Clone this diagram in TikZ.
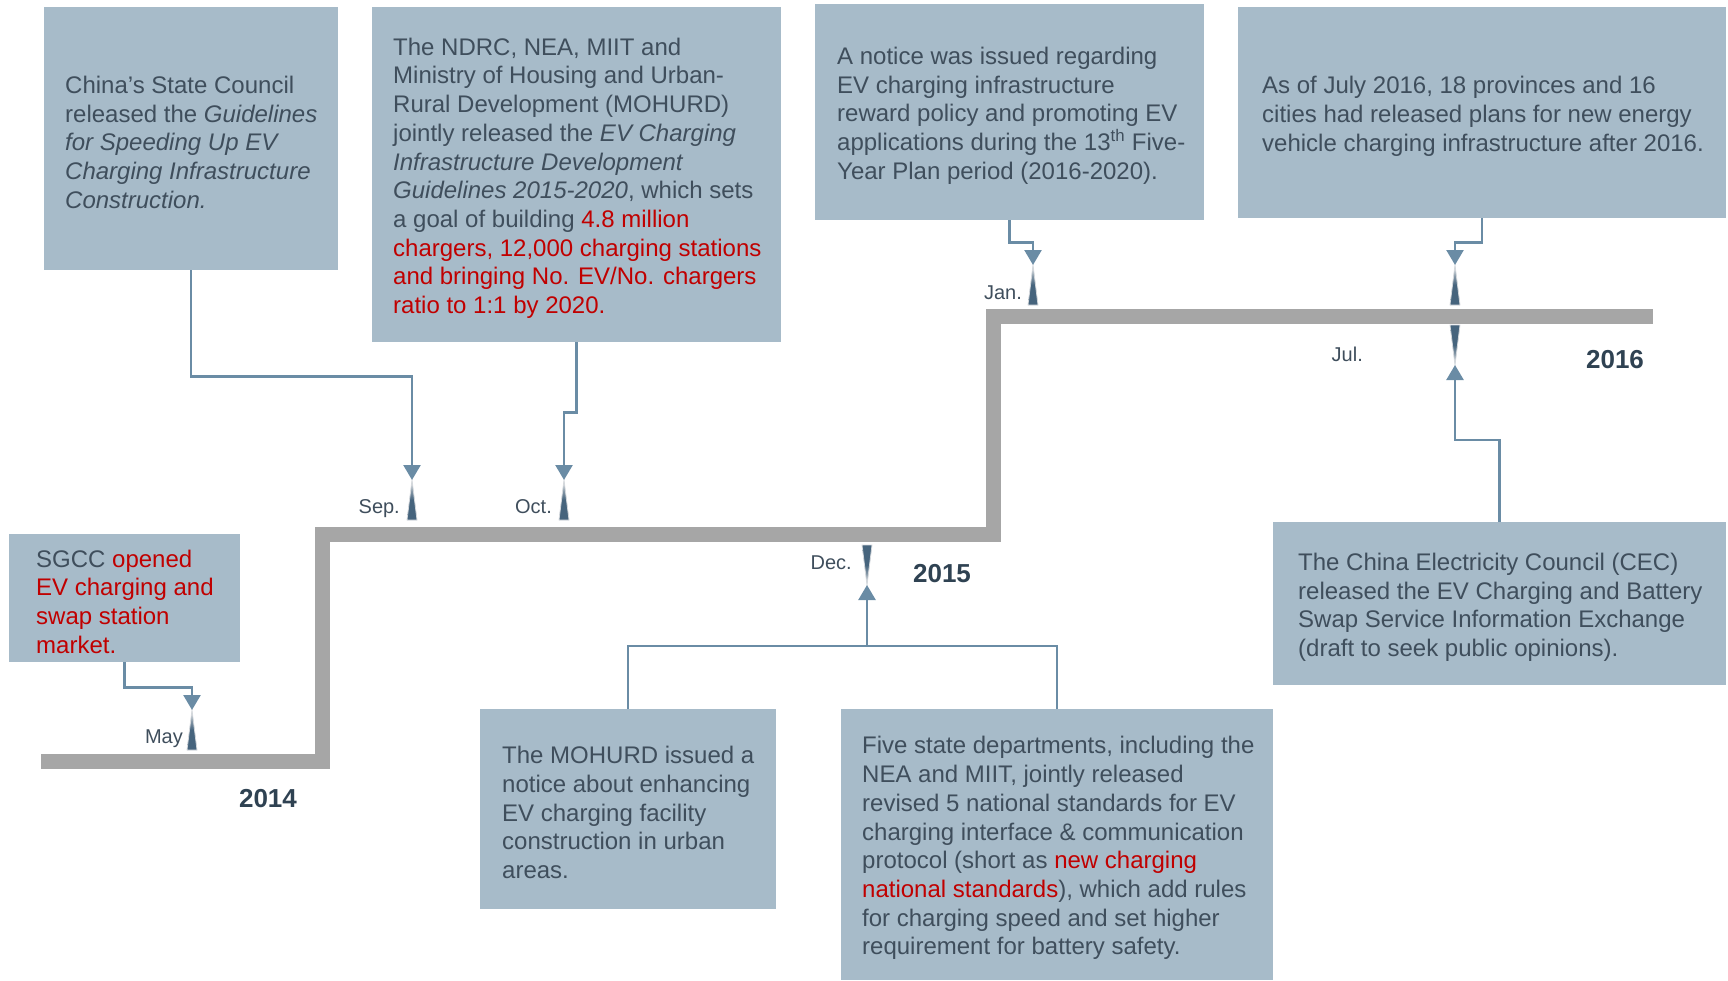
\documentclass[tikz,border=0pt]{standalone}
\usepackage{fontspec}
\setmainfont{Liberation Sans}
\usetikzlibrary{arrows.meta}

\definecolor{boxfill}{HTML}{A7BBC9}
\definecolor{txt}{HTML}{3F4E5C}
\definecolor{hlred}{HTML}{C00000}
\definecolor{connc}{HTML}{6A8CA5}
\definecolor{barc}{HTML}{A6A6A6}
\definecolor{yr}{HTML}{2F4252}
\definecolor{mkdark}{HTML}{46647D}
\definecolor{mklight}{HTML}{D4D8DC}

\newcommand\redtxt[1]{\textcolor{hlred}{#1}}

\tikzset{
  box/.style={fill=boxfill, draw=none, inner sep=0pt, anchor=north west},
  body/.style={anchor=west, align=left, inner sep=0pt, text=txt, yshift=-3.5pt,
    font=\fontsize{24}{28.7}\selectfont},
  month/.style={anchor=base east, inner sep=0pt, text=txt,
    font=\fontsize{20}{24}\selectfont},
  year/.style={anchor=base, inner sep=0pt, text=yr,
    font=\bfseries\fontsize{26}{30}\selectfont},
  conn/.style={draw=connc, line width=2.5pt},
  arr/.style={-{Triangle[width=17pt,length=15pt]}},
  upmark/.pic={\path[draw=mklight, line width=0.8pt, top color=mklight,
      bottom color=mkdark, middle color=mkdark]
      (-5,0) -- (0,-40) -- (5,0) -- cycle;},
  dnmark/.pic={\path[draw=mklight, line width=0.8pt, top color=mkdark,
      bottom color=mklight, middle color=mkdark]
      (-5,0) -- (0,40) -- (5,0) -- cycle;},
}

\begin{document}
\begin{tikzpicture}[x=1pt,y=-1pt]
\useasboundingbox (0,0) rectangle (1728,980);

% stepped timeline bar
\draw[barc, line width=15pt, line join=miter]
  (41,761) -- (322,761) -- (322,534) -- (993,534) -- (993,316) -- (1653,316);

% event boxes
\node[box, minimum width=294pt, minimum height=263pt] (sc) at (44,7) {};
\node[box, minimum width=409pt, minimum height=335pt] (nd) at (372,7) {};
\node[box, minimum width=389pt, minimum height=216pt] (nt) at (815,4) {};
\node[box, minimum width=488pt, minimum height=211pt] (jl) at (1238,7) {};
\node[box, minimum width=231pt, minimum height=128pt] (sg) at (9,534) {};
\node[box, minimum width=296pt, minimum height=200pt] (moh) at (480,709) {};
\node[box, minimum width=432pt, minimum height=271pt] (five) at (841,709) {};
\node[box, minimum width=453pt, minimum height=163pt] (cec) at (1273,522) {};

% box texts
\node[body] (sct) at ([xshift=21pt]sc.west) {China’s State Council\\
released the \textit{Guidelines}\\
\textit{for Speeding Up EV}\\
\textit{Charging Infrastructure}\\
\textit{Construction.}};

\node[body] (ndt) at ([xshift=21pt]nd.west) {The NDRC, NEA, MIIT and\\
Ministry of Housing and Urban-\\
Rural Development (MOHURD)\\
jointly released the \textit{EV Charging}\\
\textit{Infrastructure Development}\\
\textit{Guidelines 2015-2020}, which sets\\
a goal of building \redtxt{4.8 million}\\
\redtxt{chargers, 12,000 charging stations}\\
\redtxt{and bringing No. EV/No. chargers}\\
\redtxt{ratio to 1:1 by 2020.}};

\node[body] (ntt) at ([xshift=22pt]nt.west) {A notice was issued regarding\\
EV charging infrastructure\\
reward policy and promoting EV\\
applications during the 13\textsuperscript{th} Five-\\
Year Plan period (2016-2020).};

\node[body] (jlt) at ([xshift=24pt]jl.west) {As of July 2016, 18 provinces and 16\\
cities had released plans for new energy\\
vehicle charging infrastructure after 2016.};

\node[body] (sgt) at ([xshift=27pt]sg.west) {SGCC \redtxt{opened}\\
\redtxt{EV charging and}\\
\redtxt{swap station}\\
\redtxt{market.}};

\node[body] (moht) at ([xshift=22pt]moh.west) {The MOHURD issued a\\
notice about enhancing\\
EV charging facility\\
construction in urban\\
areas.};

\node[body] (fivet) at ([xshift=21pt]five.west) {Five state departments, including the\\
NEA and MIIT, jointly released\\
revised 5 national standards for EV\\
charging interface \& communication\\
protocol (short as \redtxt{new charging}\\
\redtxt{national standards}), which add rules\\
for charging speed and set higher\\
requirement for battery safety.};

\node[body] (cect) at ([xshift=25pt]cec.west) {The China Electricity Council (CEC)\\
released the EV Charging and Battery\\
Swap Service Information Exchange\\
(draft to seek public opinions).};

% month markers on the bar
\pic at (192,750) {upmark};
\pic at (412,520) {upmark};
\pic at (564,520) {upmark};
\pic at (1033,305) {upmark};
\pic at (1455,305) {upmark};
\pic at (1455,325) {dnmark};
\pic at (867,545) {dnmark};

\coordinate (may) at (192,710);
\coordinate (sep) at (412,480);
\coordinate (oct) at (564,480);
\coordinate (jan) at (1033,265);
\coordinate (julup) at (1455,265);
\coordinate (juldn) at (1455,365);
\coordinate (dec) at (867,585);
\coordinate (decj) at (867,646);

% month labels
\node[month] (lmay) at (183,743) {May};
\node[month] (lsep) at (400,513) {Sep.};
\node[month] (loct) at (552,513) {Oct.};
\node[month] (ldec) at (852,569) {Dec.};
\node[month] (ljan) at (1022,299) {Jan.};
\node[month] (ljul) at (1363,361) {Jul.};

% year labels
\node[year] (y14) at (268,807) {2014};
\node[year] (y15) at (942,582) {2015};
\node[year] (y16) at (1615,368) {2016};

% connectors
\draw[conn, arr] (sg.south) -- ++(0,25) -| (may);
\draw[conn, arr] (sc.south) -- ++(0,106) -| (sep);
\draw[conn, arr] (nd.south) -- ++(0,70) -| (oct);
\draw[conn, arr] (nt.south) -- ++(0,22) -| (jan);
\draw[conn, arr] (jl.south) -- ++(0,24) -| (julup);
\draw[conn, arr] (cec.north) -- ++(0,-82) -| (juldn);
\draw[conn] (moh.north) |- (decj);
\draw[conn, line width=1.6pt] (five.north) |- (decj);
\draw[conn, arr] (decj) -- (dec);
\end{tikzpicture}
\end{document}
